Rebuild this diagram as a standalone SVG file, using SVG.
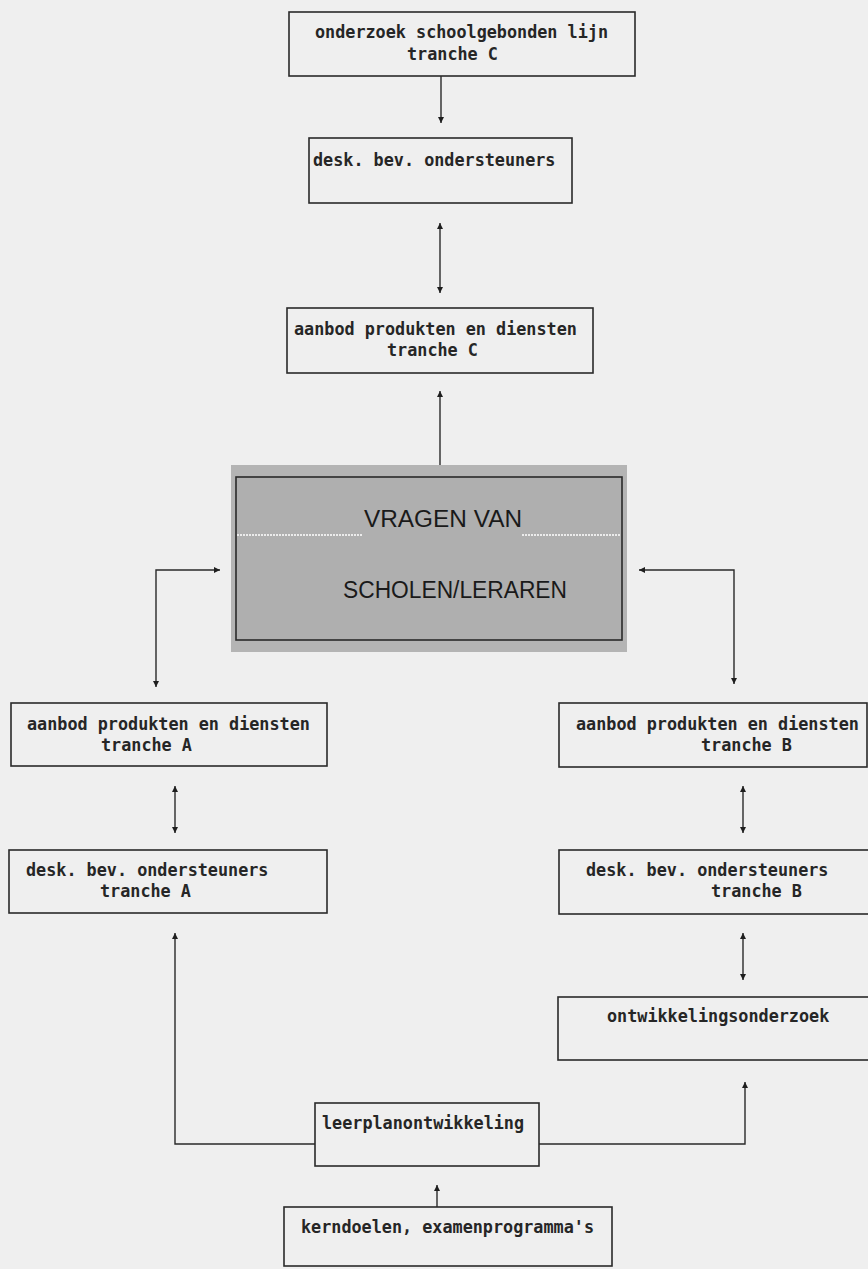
<svg xmlns="http://www.w3.org/2000/svg" width="868" height="1269" viewBox="0 0 868 1269">
<defs>
<style>
.box{fill:none;stroke:#2a2a2a;stroke-width:1.6}
.t{font-family:"DejaVu Sans Mono","Liberation Mono",monospace;font-size:16.8px;font-weight:bold;fill:#262626}
.big{font-family:"Liberation Sans",Arial,sans-serif;font-size:23px;fill:#1a1a1a}
.con{fill:none;stroke:#2a2a2a;stroke-width:1.4}
</style>
<marker id="ah" viewBox="0 0 10 10" refX="10" refY="5" markerWidth="8" markerHeight="6" markerUnits="userSpaceOnUse" orient="auto-start-reverse">
<path d="M0,0 L10,5 L0,10 Z" fill="#1e1e1e"/>
</marker>
</defs>
<rect x="0" y="0" width="868" height="1269" fill="#efefef"/>

<g id="connectors">
<line class="con" x1="441" y1="76" x2="441" y2="123" marker-end="url(#ah)"/>
<line class="con" x1="440" y1="223" x2="440" y2="293" marker-start="url(#ah)" marker-end="url(#ah)"/>
<line class="con" x1="440" y1="477" x2="440" y2="391" marker-end="url(#ah)"/>
<path class="con" d="M156,687 V570 H220" marker-start="url(#ah)" marker-end="url(#ah)"/>
<path class="con" d="M639,570 H734 V684" marker-start="url(#ah)" marker-end="url(#ah)"/>
<line class="con" x1="175" y1="786" x2="175" y2="833" marker-start="url(#ah)" marker-end="url(#ah)"/>
<line class="con" x1="743" y1="786" x2="743" y2="833" marker-start="url(#ah)" marker-end="url(#ah)"/>
<line class="con" x1="743" y1="933" x2="743" y2="980" marker-start="url(#ah)" marker-end="url(#ah)"/>
<path class="con" d="M315,1144 H175 V933" marker-end="url(#ah)"/>
<path class="con" d="M539,1144 H745 V1082" marker-end="url(#ah)"/>
<line class="con" x1="437" y1="1207" x2="437" y2="1185" marker-end="url(#ah)"/>
</g>

<g id="node-onderzoek-c">
<rect class="box" x="289" y="12" width="346" height="64"/>
<text class="t" x="315" y="38">onderzoek schoolgebonden lijn</text>
<text class="t" x="407" y="60">tranche C</text>
</g>

<g id="node-desk-c">
<rect class="box" x="309" y="138" width="263" height="65"/>
<text class="t" x="313" y="166">desk. bev. ondersteuners</text>
</g>

<g id="node-aanbod-c">
<rect class="box" x="287" y="308" width="306" height="65"/>
<text class="t" x="294" y="335">aanbod produkten en diensten</text>
<text class="t" x="387" y="356">tranche C</text>
</g>

<g id="node-vragen">
<rect x="231" y="465" width="396" height="187" fill="#b4b4b4"/>
<rect x="236" y="477" width="386" height="163" fill="#afafaf" stroke="#2a2a2a" stroke-width="1.6"/>
<line x1="237" y1="535" x2="363" y2="535" stroke="#ffffff" stroke-width="1.6" stroke-dasharray="2 1"/>
<line x1="522" y1="535" x2="621" y2="535" stroke="#ffffff" stroke-width="1.6" stroke-dasharray="2 1"/>
<text class="big" x="364" y="527" textLength="158" lengthAdjust="spacingAndGlyphs">VRAGEN VAN</text>
<text class="big" x="343" y="598" textLength="224" lengthAdjust="spacingAndGlyphs">SCHOLEN/LERAREN</text>
</g>

<g id="node-aanbod-a">
<rect class="box" x="11" y="703" width="316" height="63"/>
<text class="t" x="27" y="730">aanbod produkten en diensten</text>
<text class="t" x="101" y="751">tranche A</text>
</g>

<g id="node-desk-a">
<rect class="box" x="9" y="850" width="318" height="63"/>
<text class="t" x="26" y="876">desk. bev. ondersteuners</text>
<text class="t" x="100" y="897">tranche A</text>
</g>

<g id="node-aanbod-b">
<rect class="box" x="559" y="703" width="308" height="64"/>
<text class="t" x="576" y="730">aanbod produkten en diensten</text>
<text class="t" x="701" y="751">tranche B</text>
</g>

<g id="node-desk-b">
<rect class="box" x="559" y="850" width="312" height="64"/>
<text class="t" x="586" y="876">desk. bev.  ondersteuners</text>
<text class="t" x="711" y="897">tranche B</text>
</g>

<g id="node-ontwikkelingsonderzoek">
<rect class="box" x="558" y="997" width="313" height="63"/>
<text class="t" x="607" y="1022">ontwikkelingsonderzoek</text>
</g>

<g id="node-leerplan">
<rect class="box" x="315" y="1103" width="224" height="63"/>
<text class="t" x="322" y="1129">leerplanontwikkeling</text>
</g>

<g id="node-kerndoelen">
<rect class="box" x="284" y="1207" width="328" height="59"/>
<text class="t" x="301" y="1233">kerndoelen, examenprogramma's</text>
</g>
</svg>
